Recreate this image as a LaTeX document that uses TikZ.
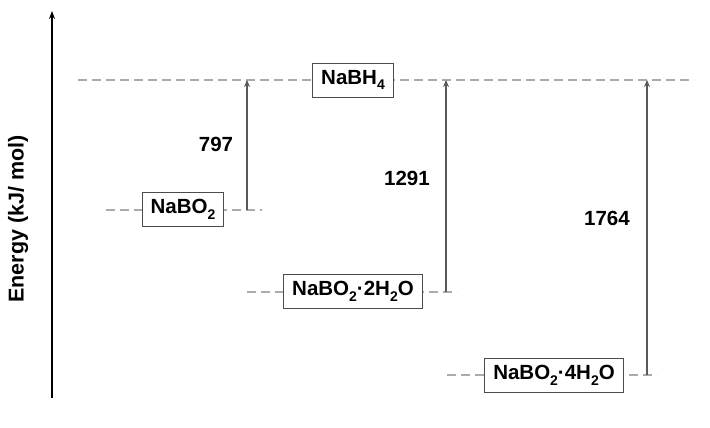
\documentclass[tikz,border=0pt]{standalone}
\usepackage{fontspec}
\setmainfont{Liberation Sans}
\usetikzlibrary{arrows.meta}
\newcommand{\chsub}[1]{\raisebox{-0.28em}{\fontsize{14}{16}\selectfont #1}}
\newcommand{\chdot}{\symbol{"00B7}}
\begin{document}
\begin{tikzpicture}[x=1pt,y=-1pt,
  level/.style={draw=black!33, line width=1.9pt, dash pattern=on 9pt off 5pt},
  species/.style={draw=black!70, line width=0.8pt, fill=white, font=\bfseries\fontsize{20.5}{24}\selectfont, inner xsep=8.5pt, minimum height=34pt},
  gap/.style={draw=black!65, line width=1.6pt, -{Stealth[length=7pt,width=6pt]}},
  val/.style={font=\bfseries\fontsize{20.5}{24}\selectfont},
  axis/.style={draw=black, line width=1.6pt, -{Stealth[length=8pt,width=6pt]}}]
\useasboundingbox (0,0) rectangle (710,428);
% axis
\coordinate (ax0) at (52,398);
\coordinate (ax1) at (52,11);
\draw[axis] (ax0) -- (ax1);
\node[rotate=90, font=\bfseries\fontsize{21.5}{24}\selectfont] (ylab) at (18,219) {Energy (kJ/ mol)};
% level endpoints
\coordinate (t0) at (78,80);
\coordinate (t1) at (694,80);
\coordinate (l1a) at (106,210);
\coordinate (l1b) at (262,210);
\coordinate (l2a) at (247,292);
\coordinate (l2b) at (457,292);
\coordinate (l3a) at (447,375);
\coordinate (l3b) at (657,375);
\draw[level] (t0) -- (t1);
\draw[level] (l1a) -- (l1b);
\draw[level] (l2a) -- (l2b);
\draw[level] (l3a) -- (l3b);
% species
\node[species] (nabh4) at (353,80) {NaBH\chsub{4}};
\node[species] (nabo2) at (183,209) {NaBO\chsub{2}};
\node[species] (nabo22) at (353,291) {NaBO\chsub{2}\chdot2H\chsub{2}O};
\node[species] (nabo24) at (554,375) {NaBO\chsub{2}\chdot4H\chsub{2}O};
% arrows
\coordinate (a1s) at (247,210);
\coordinate (a1e) at (247,80);
\coordinate (a2s) at (446,292);
\coordinate (a2e) at (446,80);
\coordinate (a3s) at (647,375);
\coordinate (a3e) at (647,80);
\draw[gap] (a1s) -- (a1e);
\draw[gap] (a2s) -- (a2e);
\draw[gap] (a3s) -- (a3e);
\node[val] (v1) at (216,144) {797};
\node[val] (v2) at (407,178) {1291};
\node[val] (v3) at (607,218) {1764};
\end{tikzpicture}
\end{document}
